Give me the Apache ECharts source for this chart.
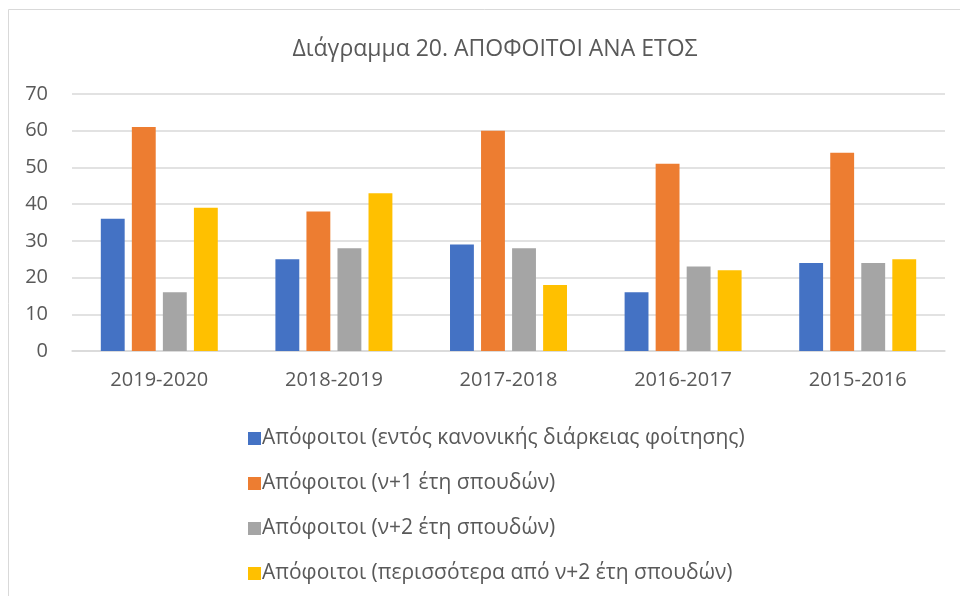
<!DOCTYPE html>
<html><head><meta charset="utf-8">
<script src="https://cdn.jsdelivr.net/npm/echarts@6/dist/echarts.min.js"></script>
<style>html,body{margin:0;padding:0;background:#fff}#c{width:960px;height:596px}</style>
</head><body><div id="c"></div>
<script>
var categories = ['2019-2020','2018-2019','2017-2018','2016-2017','2015-2016'];
var seriesNames = ['Απόφοιτοι (εντός κανονικής διάρκειας φοίτησης)','Απόφοιτοι (ν+1 έτη σπουδών)','Απόφοιτοι (ν+2 έτη σπουδών)','Απόφοιτοι (περισσότερα από ν+2 έτη σπουδών)'];
var withinNormal = [36,25,29,16,24];
var plus1 = [61,38,60,51,54];
var plus2 = [16,28,28,23,24];
var morePlus2 = [39,43,18,22,25];
var colors = ['#4472C4','#ED7D31','#A5A5A5','#FFC000'];
var FONT = '"Open Sans", "Noto Sans", sans-serif';
var chart = echarts.init(document.getElementById('c'));
var values = [withinNormal, plus1, plus2, morePlus2];
chart.setOption({
  animation:false,
  backgroundColor:'#fff',
  graphic:[{type:'rect',shape:{x:8.5,y:9.5,width:1000,height:700},style:{fill:'none',stroke:'#d9d9d9',lineWidth:1},silent:true}],
  title:{text:'Διάγραμμα 20. ΑΠΟΦΟΙΤΟΙ ΑΝΑ ΕΤΟΣ',left:490,top:33,textAlign:'center',textStyle:{color:'#595959',fontFamily:FONT,fontSize:23,fontWeight:'normal'}},
  grid:{left:72,right:15,top:94,bottom:245},
  xAxis:{type:'category',data:categories,axisLine:{lineStyle:{color:'#d9d9d9',width:1.5}},axisTick:{show:false},
    axisLabel:{color:'#595959',fontFamily:FONT,fontSize:20,margin:19}},
  yAxis:{type:'value',min:0,max:70,interval:10,axisLine:{show:false},axisTick:{show:false},
    splitLine:{lineStyle:{color:'#d9d9d9',width:1.5}},
    axisLabel:{color:'#595959',fontFamily:FONT,fontSize:20,margin:24}},
  legend:{orient:'vertical',left:243,top:423,itemWidth:13,itemHeight:13,itemGap:24,icon:'rect',
    textStyle:{color:'#595959',fontFamily:FONT,fontSize:21,padding:[0,0,0,-4]},data:seriesNames},
  series:values.map(function(v,i){return {name:seriesNames[i],type:'bar',data:v,barGap:'30%',barCategoryGap:'33%',
    itemStyle:{color:colors[i]}};})
});
</script></body></html>
